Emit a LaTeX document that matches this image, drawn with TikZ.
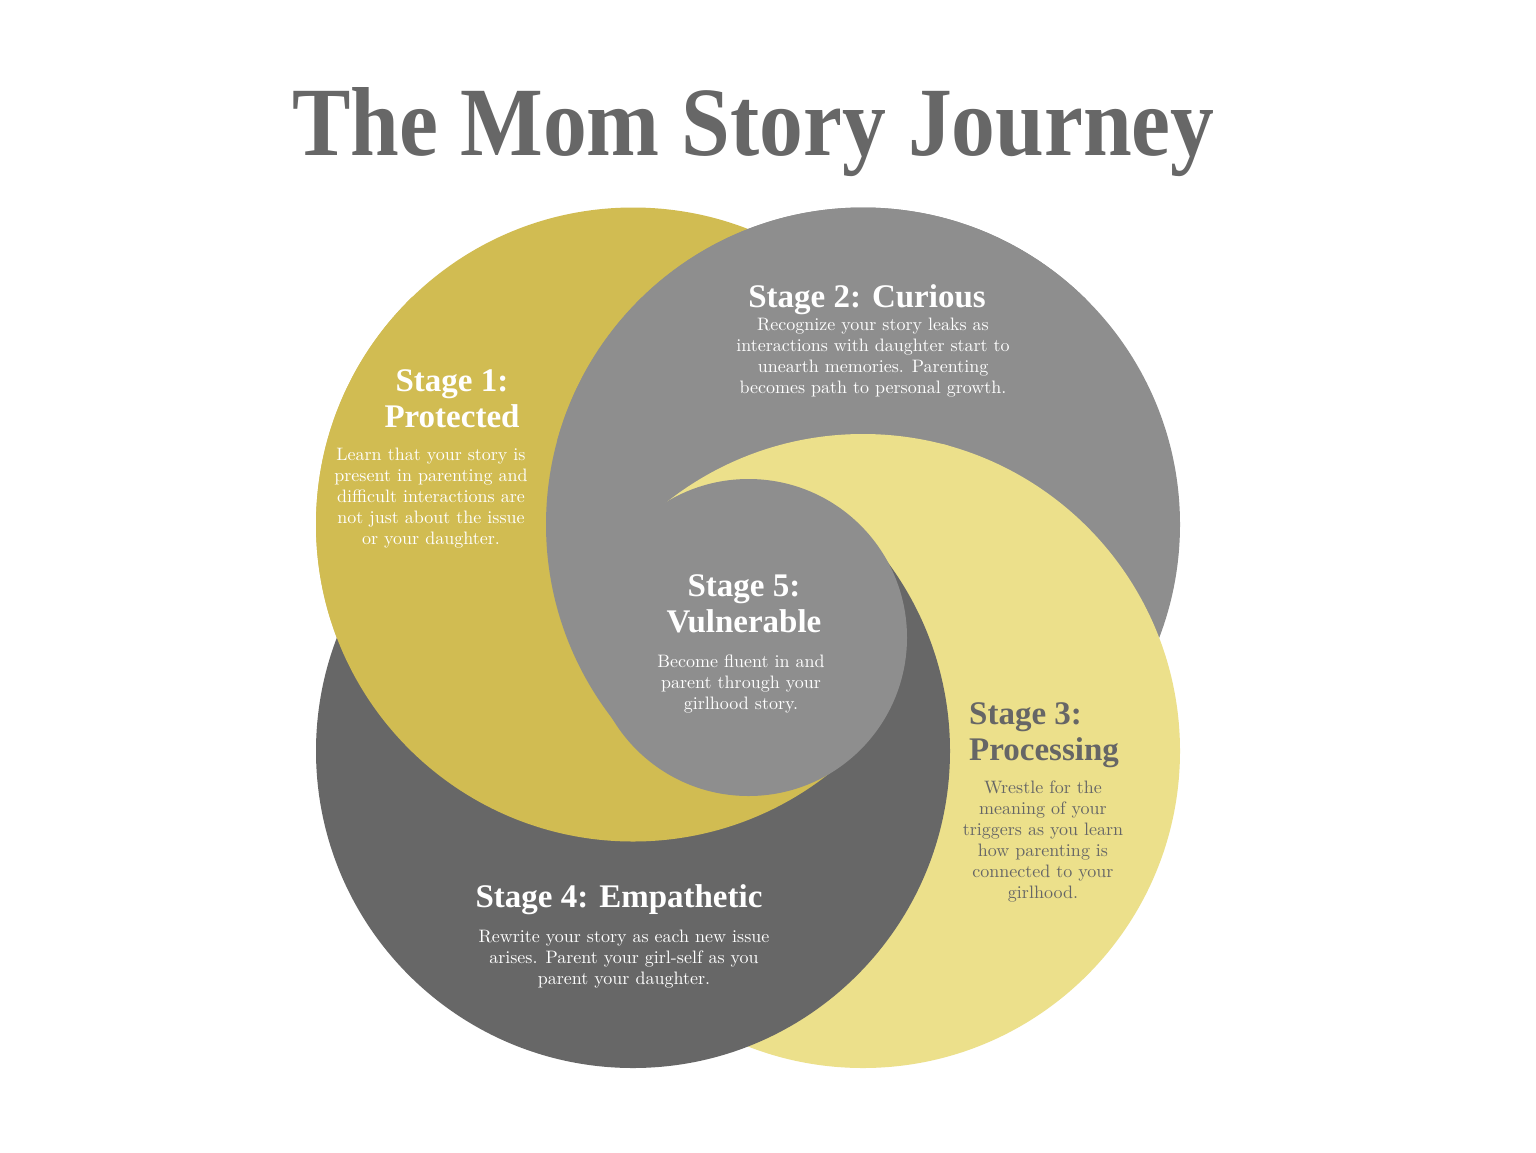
\documentclass[tikz,border=0pt]{standalone}
\usepackage{fontspec}
\usepackage{graphicx}
\newfontfamily\headfont{Liberation Serif}
\newfontfamily\bodyfont{lmroman10-regular}[Extension=.otf]
\definecolor{mom1}{HTML}{D1BC52}
\definecolor{mom2}{HTML}{8E8E8E}
\definecolor{mom3}{HTML}{ECE08B}
\definecolor{mom4}{HTML}{676767}
\definecolor{momtext}{HTML}{666666}

\begin{document}
\begin{tikzpicture}[
  x=1pt, y=-1pt,
  head/.style={font=\headfont\bfseries\fontsize{33}{36}\selectfont, text=white, inner sep=0pt},
  body/.style={font=\bodyfont\fontsize{18}{21}\selectfont, text=white, align=center, inner sep=0pt}
]
  \path[use as bounding box, fill=white] (0,0) rectangle (1536,1152);

  \node[font=\headfont\bfseries\fontsize{98}{100}\selectfont, text=mom4, anchor=base, inner sep=0pt]
    (title) at (753.5,155) {\scalebox{0.894}[1]{The Mom Story Journey}};

  \coordinate (C) at (748.5,637.5);
  \coordinate (c1) at (633,524.5);
  \coordinate (c2) at (863,524.5);
  \coordinate (c3) at (863,751);
  \coordinate (c4) at (633,751);

  \foreach \c in {1,2,3,4}
    \fill[mom\c] (c\c) circle[radius=317pt];
  \foreach \c/\ax/\ay/\bx/\by/\ex/\ey in {1/-700/-706/706/700/-700/700,
                                          2/700/-700/-700/700/-700/-700,
                                          3/0/8/700/-692/-700/-692} {
    \begin{scope}
      \clip[shift={(C)}] (\ax,\ay) -- (\bx,\by) -- (\ex,\ey) -- cycle;
      \fill[mom\c] (c\c) circle[radius=317pt];
    \end{scope}
  }
  \fill[mom2] (C) circle[radius=158.5pt];

  \node[head, align=center] (st1) at (452,399) {Stage 1:\\Protected};
  \node[body] (st1txt) at (431,498)
    {Learn that your story is\\present in parenting and\\difficult interactions are\\not just about the issue\\or your daughter.};

  \node[head, anchor=base] (st2) at (867,307) {Stage 2: Curious};
  \node[body] (st2txt) at (873,357.5)
    {Recognize your story leaks as\\interactions with daughter start to\\unearth memories. Parenting\\becomes path to personal growth.};

  \node[head, align=left, anchor=west, text=momtext] (st3) at (969,735) {Stage 3:\\Processing};
  \node[body, text=momtext] (st3txt) at (1043,841.5)
    {Wrestle for the\\meaning of your\\triggers as you learn\\how parenting is\\connected to your\\girlhood.};

  \node[head, anchor=base] (st4) at (619,907) {Stage 4: Empathetic};
  \node[body] (st4txt) at (624,959.5)
    {Rewrite your story as each new issue\\arises. Parent your girl-self as you\\parent your daughter.};

  \node[head, align=center] (st5) at (744,604) {Stage 5:\\Vulnerable};
  \node[body] (st5txt) at (741,683.5)
    {Become fluent in and\\parent through your\\girlhood story.};
\end{tikzpicture}
\end{document}
